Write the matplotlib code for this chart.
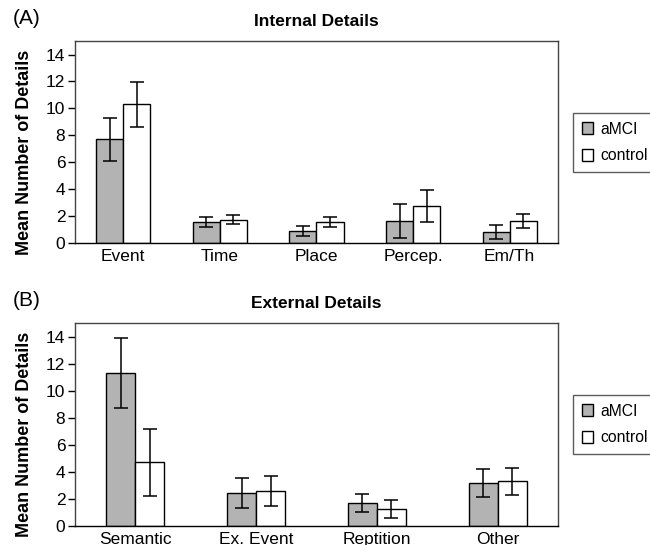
import matplotlib
matplotlib.use("Agg")
import matplotlib.pyplot as plt
import numpy as np

plt.rcParams["font.family"] = ["Liberation Sans", "DejaVu Sans"]

# Internal details (panel A)
internal_cats = ["Event", "Time", "Place", "Percep.", "Em/Th"]
internal_amci = [7.7, 1.55, 0.9, 1.65, 0.8]
internal_amci_err = [1.6, 0.35, 0.4, 1.25, 0.52]
internal_ctrl = [10.3, 1.75, 1.55, 2.75, 1.65]
internal_ctrl_err = [1.65, 0.35, 0.38, 1.18, 0.5]

# External details (panel B)
external_cats = ["Semantic", "Ex. Event", "Reptition", "Other"]
external_amci = [11.3, 2.45, 1.7, 3.18]
external_amci_err = [2.56, 1.12, 0.68, 1.02]
external_ctrl = [4.7, 2.58, 1.25, 3.3]
external_ctrl_err = [2.5, 1.12, 0.68, 0.98]

groups = ["aMCI", "control"]
colors = ["#b3b3b3", "white"]

fig = plt.figure(figsize=(6.5, 5.45), dpi=100)
ax_a = fig.add_axes([0.1154, 0.554, 0.743, 0.3706])
ax_b = fig.add_axes([0.1154, 0.0349, 0.743, 0.3725])


def draw_panel(ax, cats, amci, amci_err, ctrl, ctrl_err, width, title, tag, leg_y):
    x = np.arange(len(cats))
    for vals, errs, col, off, lab in [
        (amci, amci_err, colors[0], -width / 2, groups[0]),
        (ctrl, ctrl_err, colors[1], width / 2, groups[1]),
    ]:
        ax.bar(x + off, vals, width=width, color=col, edgecolor="black",
               linewidth=1.0, label=lab, zorder=2)
        ax.errorbar(x + off, vals, yerr=errs, fmt="none", ecolor="black",
                    elinewidth=1.1, capsize=5, capthick=1.1, zorder=3)
    ax.set_xlim(-0.5, len(cats) - 0.5)
    ax.set_ylim(0, 15)
    ax.set_yticks(np.arange(0, 15, 2))
    ax.set_xticks(x)
    ax.set_xticklabels(cats, fontsize=12.5)
    ax.tick_params(axis="x", length=0, pad=4)
    ax.tick_params(axis="y", labelsize=12.5, length=5, width=1, pad=2)
    for s in ax.spines.values():
        s.set_color("#444444")
        s.set_linewidth(1.0)
    ax.spines["bottom"].set_color("black")
    ax.set_ylabel("Mean Number of Details", fontsize=13, fontweight="bold")
    ax.yaxis.set_label_coords(-0.087, 0.45)
    ax.set_title(title, fontsize=12.5, fontweight="bold", pad=11)
    ax.text(-0.128, 1.112, tag, transform=ax.transAxes, fontsize=15,
            ha="left", va="center")
    leg = ax.legend(loc="upper left", bbox_to_anchor=(0.8815, leg_y),
                    bbox_transform=fig.transFigure, frameon=True, fancybox=False,
                    fontsize=11.3, handlelength=0.75, handleheight=0.75,
                    handletextpad=0.45, borderpad=0.55, labelspacing=0.75,
                    borderaxespad=0)
    leg.get_frame().set_edgecolor("#333333")
    leg.get_frame().set_linewidth(1.0)


draw_panel(ax_a, internal_cats, internal_amci, internal_amci_err,
           internal_ctrl, internal_ctrl_err, 0.28, "Internal Details", "(A)", 0.7927)
draw_panel(ax_b, external_cats, external_amci, external_amci_err,
           external_ctrl, external_ctrl_err, 0.24, "External Details", "(B)", 0.2752)

fig.savefig("out.png", dpi=100)
